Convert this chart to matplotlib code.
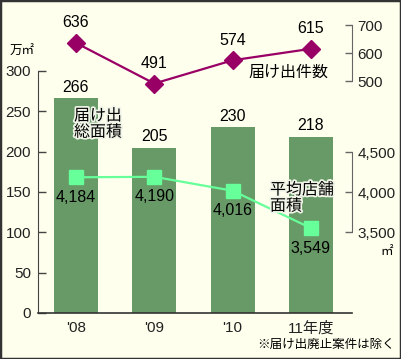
import matplotlib.pyplot as plt
import matplotlib.patheffects as pe
from matplotlib.patches import Rectangle

plt.rcParams['font.family'] = ['Liberation Sans', 'Noto Sans CJK JP', 'DejaVu Sans']

years = ["'08", "'09", "'10", "11年度"]
total_area = [266, 205, 230, 218]        # 届け出総面積 (万㎡)
filings = [636, 491, 574, 615]           # 届け出件数
avg_area = [4184, 4190, 4016, 3549]      # 平均店舗面積 (㎡)
avg_labels = ['4,184', '4,190', '4,016', '3,549']

bg = '#FFFFEE'
bar_c = '#679A67'
purple = '#990066'
lgreen = '#66FF99'
axc = '#444444'

W, H = 401, 359
fig = plt.figure(figsize=(W / 100, H / 100), dpi=100, facecolor=bg)
pos = [38 / W, (H - 313) / H, (352 - 38) / W, (313 - 10) / H]

ax = fig.add_axes(pos)
ax.set_facecolor('none')
x = list(range(len(years)))
ax.bar(x, total_area, width=0.56, color=bar_c, zorder=1)
ax.set_xlim(-0.485, 3.525)
ax.set_ylim(0, 375.5)
ax.set_yticks([0, 50, 100, 150, 200, 250, 300])
ax.set_xticks(x)
ax.set_xticklabels(years)
ax.tick_params(axis='x', length=0, pad=6, labelsize=11, colors='#222222')
ax.tick_params(axis='y', direction='in', length=6, width=1, pad=5,
               labelsize=11, colors=axc, labelcolor='#222222')
for s in ['top', 'right']:
    ax.spines[s].set_visible(False)
ax.spines['left'].set_bounds(0, 300)
ax.spines['left'].set_color(axc)
ax.spines['bottom'].set_color('#333333')
ax.spines['bottom'].set_linewidth(1.2)
for xi, v in zip(x, total_area):
    ax.annotate(str(v), (xi, v), xytext=(0, 8), textcoords='offset points',
                ha='center', va='center', fontsize=11.5)

# 届け出件数
ax2 = fig.add_axes(pos)
ax2.set_facecolor('none')
ax2.plot(x, filings, color=purple, lw=1.6, marker='D', ms=9.5, zorder=3)
ax2.set_xlim(ax.get_xlim())
ax2.set_ylim(-328.6, 753.6)
ax2.set_yticks([500, 600, 700])
ax2.yaxis.tick_right()
ax2.set_xticks([])
for s in ['top', 'left', 'bottom']:
    ax2.spines[s].set_visible(False)
ax2.spines['right'].set_bounds(500, 700)
ax2.spines['right'].set_color('#666666')
ax2.tick_params(axis='y', direction='in', length=5, width=1, pad=4,
                labelsize=11, colors='#666666', labelcolor='#222222')
for xi, v in zip(x, filings):
    ax2.annotate(str(v), (xi, v), xytext=(0, 14.5), textcoords='offset points',
                 ha='center', va='center', fontsize=11.5)

# 平均店舗面積
ax3 = fig.add_axes(pos)
ax3.set_facecolor('none')
ax3.plot(x, avg_area, color=lgreen, lw=1.6, marker='s', ms=9.5, zorder=3)
ax3.set_xlim(ax.get_xlim())
ax3.set_ylim(2487.5, 6275)
ax3.set_yticks([3500, 4000, 4500])
ax3.set_yticklabels(['3,500', '4,000', '4,500'])
ax3.yaxis.tick_right()
ax3.set_xticks([])
for s in ['top', 'left', 'bottom']:
    ax3.spines[s].set_visible(False)
ax3.spines['right'].set_bounds(3500, 4500)
ax3.spines['right'].set_color('#666666')
ax3.tick_params(axis='y', direction='in', length=5, width=1, pad=4,
                labelsize=11, colors='#666666', labelcolor='#222222')
for xi, lab, v in zip(x, avg_labels, avg_area):
    ax3.annotate(lab, (xi, v), xytext=(0, -14.5), textcoords='offset points',
                 ha='center', va='center', fontsize=11.5)

halo = [pe.withStroke(linewidth=2.5, foreground='#F0F5E8')]
fig.text(74 / W, 1 - 124 / H, '届け出\n総面積', fontsize=11.5, ha='left',
         va='center', linespacing=1.1, path_effects=halo)
fig.text(270 / W, 1 - 198 / H, '平均店舗\n面積', fontsize=11.5, ha='left',
         va='center', linespacing=1.1, path_effects=halo)
fig.text(288 / W, 1 - 72 / H, '届け出件数', fontsize=11.5, ha='center', va='center')
fig.text(22 / W, 1 - 52 / H, '万㎡', fontsize=9, ha='center', va='center')
fig.text(387 / W, 1 - 252 / H, '㎡', fontsize=9, ha='center', va='center')
fig.text(395 / W, 1 - 345 / H, '※届け出廃止案件は除く', fontsize=9,
         ha='right', va='center')

fig.patches.append(Rectangle((0, 0), 1, 1, transform=fig.transFigure,
                             fill=False, edgecolor='#333333', lw=2.5))

fig.savefig('out.png', dpi=100, facecolor=bg)
